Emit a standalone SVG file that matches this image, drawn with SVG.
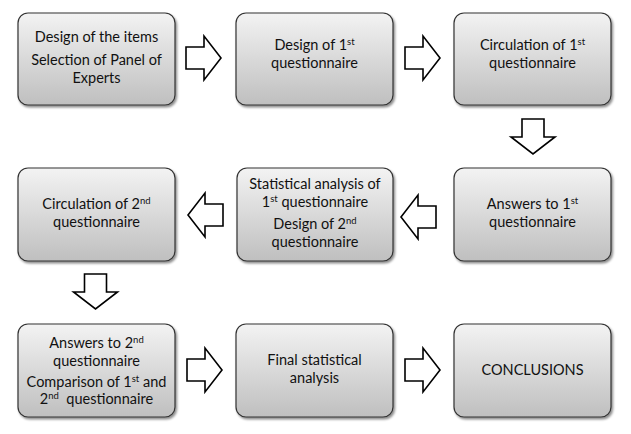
<svg xmlns="http://www.w3.org/2000/svg" width="631" height="434" viewBox="0 0 631 434">
<style>
.box{fill:url(#g);stroke:#333;stroke-width:1.2;filter:url(#sh)}
.t{font-family:Lato,"Open Sans","Liberation Sans",sans-serif;font-size:14.5px;fill:#111;text-anchor:middle}
.s{font-size:9.5px}
.pre{white-space:pre}
.arr{fill:#fff;stroke:#000;stroke-width:1.6;stroke-linejoin:miter}
</style>
<defs>
<linearGradient id="g" x1="0" y1="0" x2="0" y2="1">
<stop offset="0" stop-color="#f3f3f3"/>
<stop offset="1" stop-color="#bfbfbf"/>
</linearGradient>
<filter id="sh" x="-10%" y="-10%" width="125%" height="130%">
<feDropShadow dx="1.5" dy="2" stdDeviation="1.2" flood-color="#000" flood-opacity="0.45"/>
</filter>
<path id="ar" d="M0,-11 H18 V-22 L35,0 L18,22 V11 H0 Z"/>
</defs>
<rect width="631" height="434" fill="#fff"/>
<g id="connectors">
<use href="#ar" class="arr" transform="translate(186,58)"/>
<use href="#ar" class="arr" transform="translate(405,58)"/>
<use href="#ar" class="arr" transform="translate(533,119) rotate(90)"/>
<use href="#ar" class="arr" transform="translate(436,217) rotate(180)"/>
<use href="#ar" class="arr" transform="translate(223,215) rotate(180)"/>
<use href="#ar" class="arr" transform="translate(95.5,274) rotate(90)"/>
<use href="#ar" class="arr" transform="translate(187,370)"/>
<use href="#ar" class="arr" transform="translate(405,370)"/>
</g>
<g id="n1">
<rect class="box" x="18" y="13" width="157" height="92" rx="10"/>
<text class="t" x="96.5" y="42">Design of the items</text>
<text class="t" x="96.5" y="65">Selection of Panel of</text>
<text class="t" x="96.5" y="83">Experts</text>
</g>
<g id="n2">
<rect class="box" x="236" y="13" width="157" height="92" rx="10"/>
<text class="t" x="314.5" y="50">Design of 1<tspan class="s" dy="-5">st</tspan></text>
<text class="t" x="314.5" y="68">questionnaire</text>
</g>
<g id="n3">
<rect class="box" x="454" y="13" width="157" height="92" rx="10"/>
<text class="t" x="532.5" y="50">Circulation of 1<tspan class="s" dy="-5">st</tspan></text>
<text class="t" x="532.5" y="68">questionnaire</text>
</g>
<g id="n4">
<rect class="box" x="454" y="168" width="157" height="93" rx="10"/>
<text class="t" x="532.5" y="209">Answers to 1<tspan class="s" dy="-5">st</tspan></text>
<text class="t" x="532.5" y="227">questionnaire</text>
</g>
<g id="n5">
<rect class="box" x="237" y="168" width="156" height="93" rx="10"/>
<text class="t" x="315" y="189">Statistical analysis of</text>
<text class="t" x="315" y="207">1<tspan class="s" dy="-5">st</tspan><tspan dy="5"> questionnaire</tspan></text>
<text class="t" x="315" y="229">Design of 2<tspan class="s" dy="-5">nd</tspan></text>
<text class="t" x="315" y="247">questionnaire</text>
</g>
<g id="n6">
<rect class="box" x="18" y="168" width="157" height="93" rx="10"/>
<text class="t" x="96.5" y="209">Circulation of 2<tspan class="s" dy="-5">nd</tspan></text>
<text class="t" x="96.5" y="227">questionnaire</text>
</g>
<g id="n7">
<rect class="box" x="18" y="324" width="157" height="93" rx="10"/>
<text class="t" x="96.5" y="348">Answers to 2<tspan class="s" dy="-5">nd</tspan></text>
<text class="t" x="96.5" y="366">questionnaire</text>
<text class="t" x="96.5" y="387">Comparison of 1<tspan class="s" dy="-5">st</tspan><tspan dy="5"> and</tspan></text>
<text class="t pre" x="96.5" y="404">2<tspan class="s" dy="-5">nd</tspan><tspan dy="5">  questionnaire</tspan></text>
</g>
<g id="n8">
<rect class="box" x="236" y="324" width="157" height="93" rx="10"/>
<text class="t" x="314.5" y="365">Final statistical</text>
<text class="t" x="314.5" y="383">analysis</text>
</g>
<g id="n9">
<rect class="box" x="454" y="324" width="157" height="93" rx="10"/>
<text class="t" x="532.5" y="375">CONCLUSIONS</text>
</g>
</svg>
